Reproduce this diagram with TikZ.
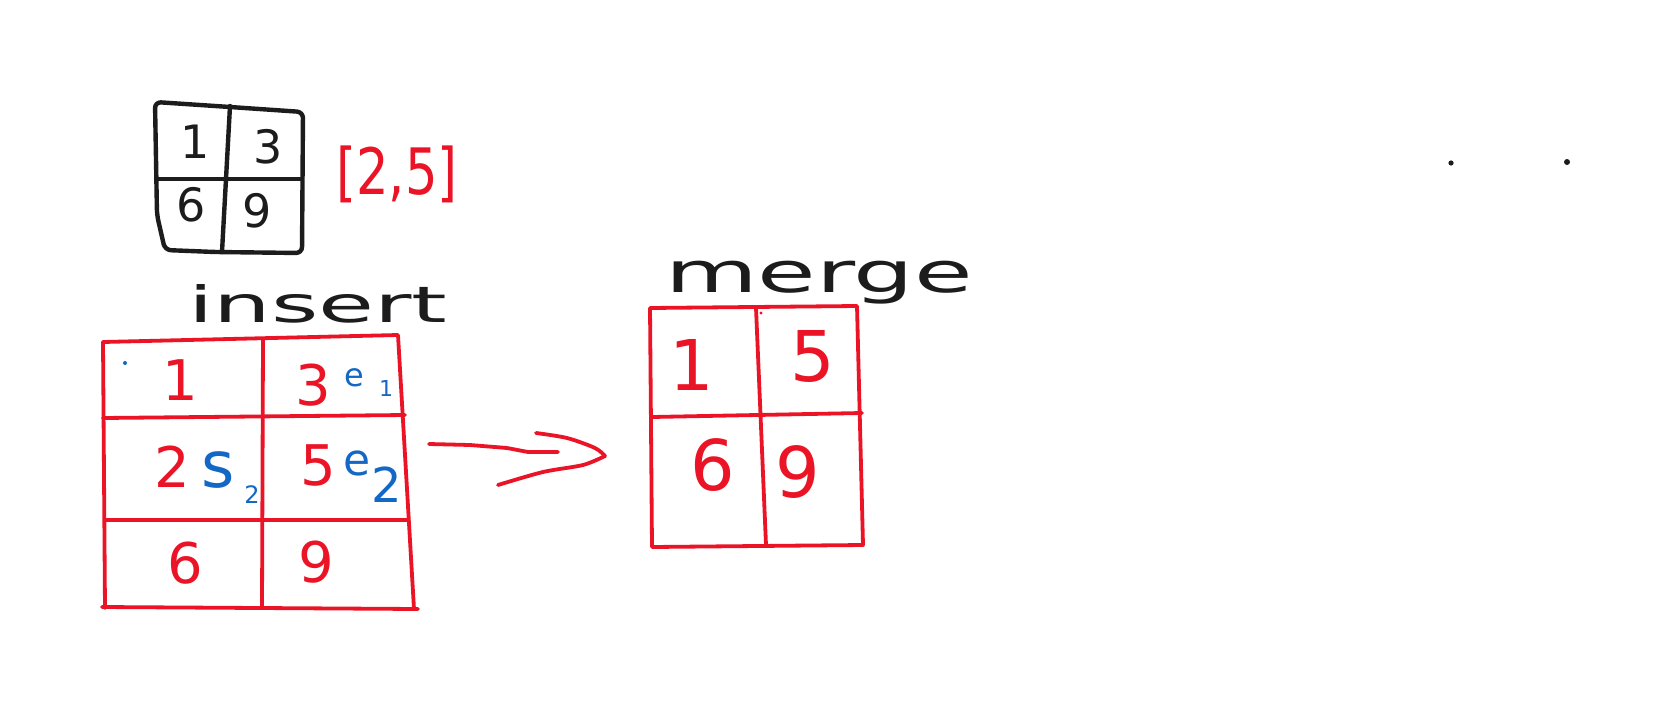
\documentclass[tikz,border=0pt]{standalone}
\usepackage{fontspec}
\setmainfont{DejaVu Sans}
\definecolor{myred}{RGB}{234,20,38}
\definecolor{myblue}{RGB}{18,104,196}
\definecolor{myblack}{RGB}{28,28,28}
\tikzset{
  blk/.style={line width=4.4pt, myblack, line cap=round, line join=round},
  redl/.style={line width=3.8pt, myred, line cap=round, line join=round},
  bnum/.style={font=\fontsize{46}{46}\selectfont, text=myblack, inner sep=0pt},
  rnum/.style={font=\fontsize{56}{56}\selectfont, text=myred, inner sep=0pt},
  mnum/.style={font=\fontsize{70}{70}\selectfont, text=myred, inner sep=0pt},
  blu/.style={text=myblue, inner sep=0pt},
  word/.style={text=myblack, inner sep=0pt, anchor=base west},
}
\begin{document}
\begin{tikzpicture}[x=1pt,y=-1pt]
\useasboundingbox[fill=white] (0,0) rectangle (1669,712);

% black 2x2 table
\draw[blk, rounded corners=6pt] (155,102) -- (230,107) -- (303,112) -- (302,253) -- (215,252) -- (165,250) -- (157,215) -- cycle;
\draw[blk] (230,106) -- (222,252);
\draw[blk] (157,179) -- (300,179);
\node[bnum] (b1) at (195,142) {1};
\node[bnum] (b3) at (268,147) {3};
\node[bnum] (b6) at (191,205) {6};
\node[bnum] (b9) at (257,211) {9};

% red [2,5]
\node[text=myred, inner sep=0pt, font=\fontsize{64}{64}\selectfont] (rng) at (397,174) {\scalebox{0.8}[1]{[2,5]}};

% insert label
\node[word, font=\fontsize{50}{50}\selectfont] (ins) at (188,322) {\scalebox{1.82}[1]{insert}};

% insert table (red)
\draw[redl] (103,342) -- (398,335) -- (414,609);
\draw[redl] (102,607) -- (418,609);
\draw[redl] (103,342) -- (105,608);
\draw[redl] (263,340) -- (262,607);
\draw[redl] (103,418) -- (405,415);
\draw[redl] (105,520) -- (407,520);
\node[rnum] (i1) at (180,380) {1};
\node[rnum] (i3) at (313,385) {3};
\node[rnum] (i2) at (172,467) {2};
\node[rnum] (i5) at (318,465) {5};
\node[rnum] (i6) at (185,563) {6};
\node[rnum] (i9) at (316,562) {9};
\node[blu, font=\fontsize{32}{32}\selectfont] (e1) at (354,378) {e};
\node[blu, font=\fontsize{22}{22}\selectfont] (e1s) at (386,388) {1};
\node[blu, font=\fontsize{64}{64}\selectfont] (s2) at (218,470) {s};
\node[blu, font=\fontsize{24}{24}\selectfont] (s2s) at (252,495) {2};
\node[blu, font=\fontsize{44}{44}\selectfont] (e2) at (357,463) {e};
\node[blu, font=\fontsize{48}{48}\selectfont] (e2s) at (387,485) {2};
\fill[myblue] (125,363) circle (2pt);

% arrow
\coordinate (arrtail) at (429,444);
\coordinate (arrtip) at (605,456);
\draw[redl] (arrtail) -- (470,445) -- (507,448) -- (528,452) -- (558,452);
\draw[redl] plot[smooth] coordinates {(536,433) (567,438) (595,448) (arrtip)};
\draw[redl] plot[smooth] coordinates {(arrtip) (583,465) (543,472) (498,485)};

% merge label
\node[word, font=\fontsize{56}{56}\selectfont] (mrg) at (665,292) {\scalebox{1.7}[1]{merge}};

% merge table (red)
\draw[redl] (650,308) -- (857,306) -- (863,545) -- (652,547) -- cycle;
\draw[redl] (756,308) -- (766,545);
\draw[redl] (652,417) -- (862,413);
\node[mnum] (m1) at (692,365) {1};
\node[mnum] (m5) at (813,356) {5};
\node[mnum] (m6) at (713,465) {6};
\node[mnum] (m9) at (798,472) {9};
\fill[myred] (761,313) circle (1.6pt);

% stray dots
\fill[myblack] (1451,163) circle (2.6pt);
\fill[myblack] (1567,162) circle (3pt);
\end{tikzpicture}
\end{document}
